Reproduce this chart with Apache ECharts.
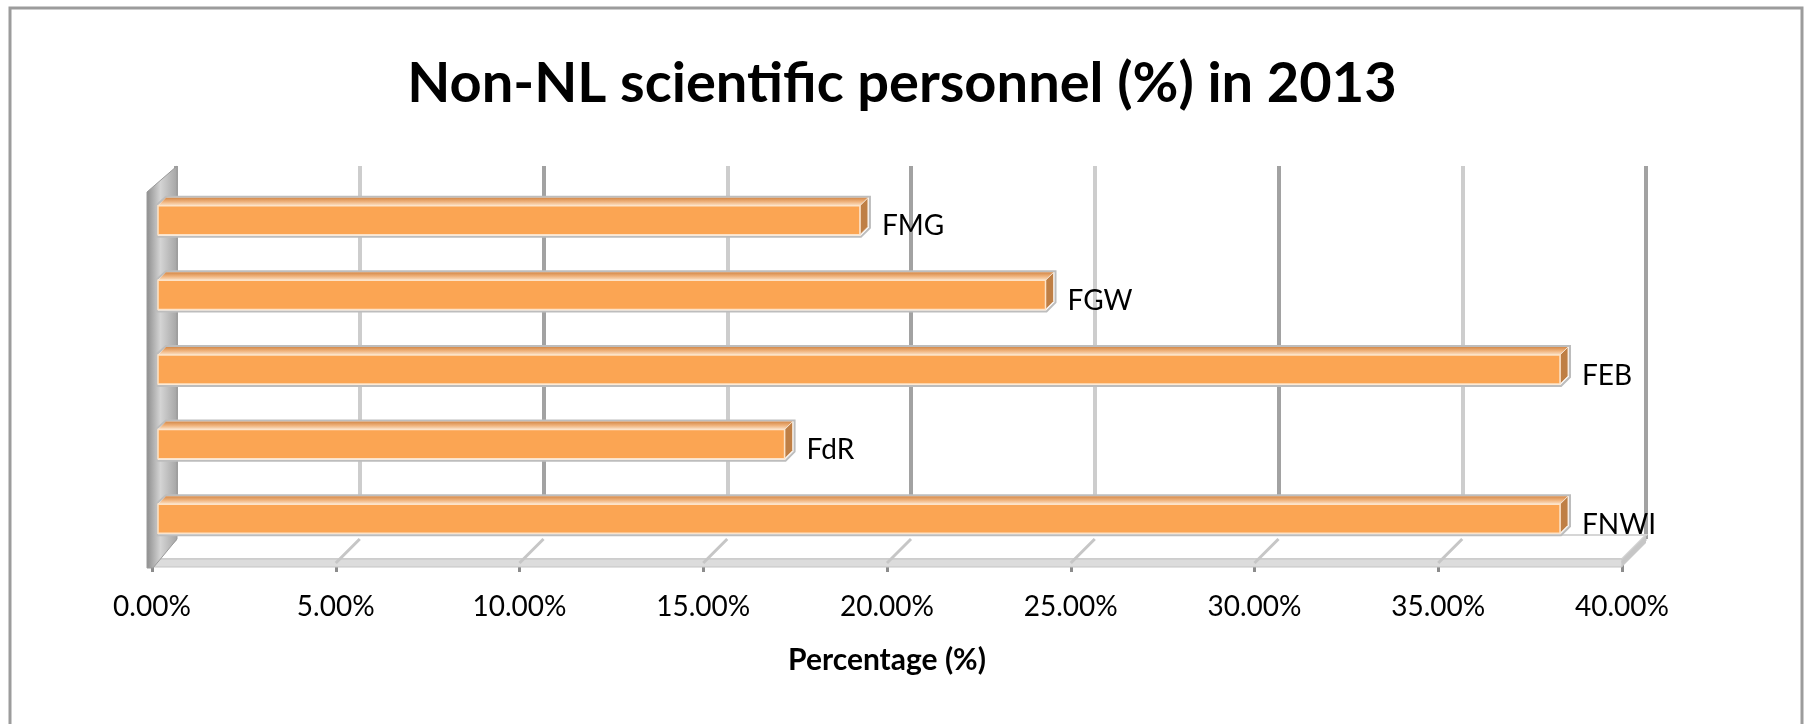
<!DOCTYPE html>
<html>
<head>
<meta charset="utf-8">
<script src="https://cdn.jsdelivr.net/npm/echarts@6/dist/echarts.min.js"></script>
<style>
  html, body { margin: 0; padding: 0; background: #fff; }
  #chart { width: 1804px; height: 724px; }
</style>
</head>
<body>
<div id="chart"></div>
<script>
// data
const categories = ['FMG', 'FGW', 'FEB', 'FdR', 'FNWI'];
const values = [19.1, 24.15, 38.15, 17.05, 38.15];
const tickValues = [0, 5, 10, 15, 20, 25, 30, 35, 40];

const FONT = 'Lato, "Open Sans", sans-serif';
// fake 3d depth of the plot box
const DX = 24, DY = -24;

const chart = echarts.init(document.getElementById('chart'));

// floor, left wall and slanted tick connectors
function renderFrame(params, api) {
  const cs = params.coordSys;
  const x0 = cs.x, x1 = cs.x + cs.width;
  const yT = cs.y, yB = cs.y + cs.height;
  const children = [];
  // floor top surface
  children.push({
    type: 'polygon',
    shape: { points: [[x0, yB - 4], [x1, yB - 4], [x1 + DX, yB - 4 + DY], [x0 + DX, yB - 4 + DY]] },
    style: { fill: '#ffffff', stroke: '#d6d6d6', lineWidth: 2 }
  });
  // floor front edge
  children.push({
    type: 'rect',
    shape: { x: x0, y: yB - 4, width: x1 - x0, height: 8 },
    style: { fill: '#dcdcdc', stroke: '#c4c4c4', lineWidth: 1 }
  });
  // floor right end
  children.push({
    type: 'polygon',
    shape: { points: [[x1, yB - 4], [x1 + DX, yB - 4 + DY], [x1 + DX, yB + 4 + DY], [x1, yB + 4]] },
    style: { fill: '#c8c8c8' }
  });
  // slanted tick connectors on the floor
  tickValues.forEach(function (t) {
    const p = api.coord([t, 0]);
    children.push({
      type: 'line',
      shape: { x1: p[0], y1: yB, x2: p[0] + DX, y2: yB + DY },
      style: { stroke: '#c6c6c6', lineWidth: 3 }
    });
  });
  // left wall
  children.push({
    type: 'polygon',
    shape: { points: [[x0 - 5, yT + 2], [x0 + DX + 1, yT + DY], [x0 + DX + 1, yB + DY], [x0 + 1, yB + 5], [x0 - 5, yB + 5]] },
    style: {
      fill: new echarts.graphic.LinearGradient(0, 0, 1, 0, [
        { offset: 0, color: '#8c8c8c' },
        { offset: 0.45, color: '#d4d4d4' },
        { offset: 1, color: '#a4a4a4' }
      ]),
      stroke: '#9a9a9a', lineWidth: 1
    }
  });
  return { type: 'group', children: children };
}

// bars drawn as boxes sitting a little behind the front plane
function renderBar(params, api) {
  const v = api.value(0);
  const idx = api.value(1);
  const pS = api.coord([0, idx]);
  const pE = api.coord([v, idx]);
  const band = api.size([0, 1])[1];
  const h = band * 0.39;
  const offX = 6, offY = -7, d = 8;
  const xs = pS[0] + offX, xe = pE[0] + offX;
  const yc = pS[1] + offY;
  const yt = yc - h / 2, yb = yc + h / 2;
  return {
    type: 'group',
    children: [
      {
        type: 'polygon',
        shape: { points: [[xs - 1, yt - 1], [xs + d, yt - d - 1], [xe + d + 2, yt - d - 1], [xe + d + 2, yb - d + 1], [xe + 1, yb + 2], [xs - 1, yb + 2]] },
        style: { fill: '#ffffff', stroke: '#bdbdbd', lineWidth: 2 }
      },
      {
        type: 'polygon',
        shape: { points: [[xs, yt], [xe, yt], [xe + d, yt - d], [xs + d, yt - d]] },
        style: {
          fill: new echarts.graphic.LinearGradient(0, 0, 0, 1, [
            { offset: 0, color: '#d3894a' },
            { offset: 0.5, color: '#f0b37c' },
            { offset: 1, color: '#fbe2c8' }
          ])
        }
      },
      {
        type: 'polygon',
        shape: { points: [[xe, yt], [xe + d, yt - d], [xe + d, yb - d], [xe, yb]] },
        style: { fill: '#bf7f45', stroke: '#f2e2d2', lineWidth: 1 }
      },
      {
        type: 'rect',
        shape: { x: xs, y: yt, width: xe - xs, height: h },
        style: { fill: '#fba553', stroke: '#fde3c8', lineWidth: 1.5 }
      },
      {
        type: 'text',
        x: xe + d + 14,
        y: yc + 6,
        style: {
          text: categories[params.dataIndex],
          fill: '#000',
          font: '28px ' + FONT,
          textVerticalAlign: 'middle'
        }
      }
    ]
  };
}

const option = {
  backgroundColor: '#fff',
  animation: false,
  title: {
    text: 'Non-NL scientific personnel (%) in 2013',
    left: 'center',
    top: 51,
    textStyle: { fontFamily: FONT, fontWeight: 'bold', fontSize: 56, color: '#000' }
  },
  graphic: [{
    type: 'rect',
    shape: { x: 10, y: 8, width: 1792, height: 740 },
    style: { fill: 'none', stroke: '#9c9c9c', lineWidth: 3 },
    silent: true
  }],
  grid: [
    { left: 152, right: 182, top: 190, bottom: 161 },
    { left: 152 + DX, right: 182 - DX, top: 190 + DY, bottom: 161 - DY }
  ],
  xAxis: [
    {
      gridIndex: 0,
      type: 'value',
      min: 0, max: 40, interval: 5,
      axisLine: { show: false },
      axisTick: { show: true, length: 9, lineStyle: { color: '#8c8c8c', width: 3 } },
      splitLine: { show: false },
      axisLabel: {
        margin: 30,
        fontFamily: FONT, fontSize: 28, color: '#000',
        formatter: function (v) { return v.toFixed(2) + '%'; }
      },
      name: 'Percentage (%)',
      nameLocation: 'middle',
      nameGap: 82,
      nameTextStyle: { fontFamily: FONT, fontWeight: 'bold', fontSize: 30, color: '#000' }
    },
    {
      gridIndex: 1,
      type: 'value',
      min: 0, max: 40, interval: 5,
      axisLine: { show: false },
      axisTick: { show: false },
      axisLabel: { show: false },
      splitLine: { show: true, lineStyle: { color: ['#a2a2a2', '#cdcdcd'], width: 4 } }
    }
  ],
  yAxis: [
    {
      gridIndex: 0,
      type: 'category',
      data: categories,
      inverse: true,
      axisLine: { show: false },
      axisTick: { show: false },
      axisLabel: { show: false },
      splitLine: { show: false }
    },
    {
      gridIndex: 1,
      type: 'value',
      show: false
    }
  ],
  series: [
    {
      type: 'custom',
      name: 'frame',
      xAxisIndex: 0, yAxisIndex: 0,
      silent: true,
      z: 1,
      data: [[0, 0]],
      renderItem: renderFrame
    },
    {
      type: 'custom',
      name: 'Non-NL',
      xAxisIndex: 0, yAxisIndex: 0,
      z: 3,
      data: values.map(function (v, i) { return [v, i]; }),
      encode: { x: 0, y: 1 },
      renderItem: renderBar
    }
  ]
};

chart.setOption(option);
</script>
</body>
</html>
